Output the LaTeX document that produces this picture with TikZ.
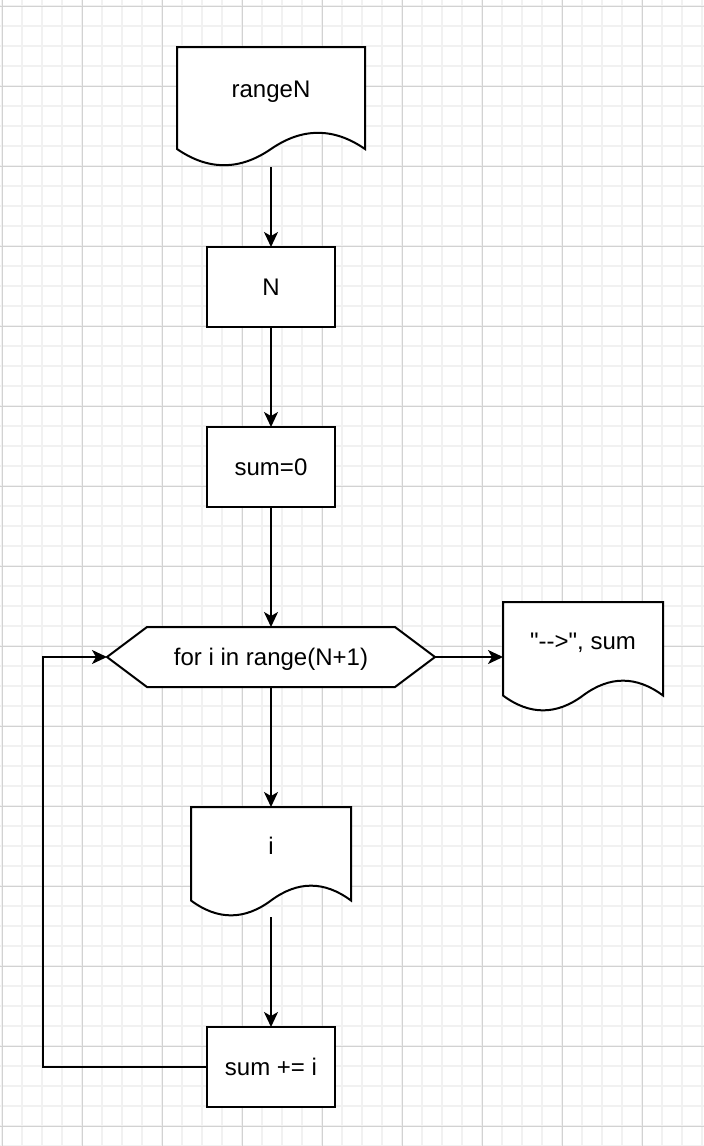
\documentclass[tikz,border=0pt]{standalone}
\usepackage{fontspec}
\setmainfont{Liberation Sans}[Ligatures=TeXOff]
\usetikzlibrary{arrows.meta,calc}
\definecolor{gridminor}{HTML}{F1F1F1}
\definecolor{gridmajor}{HTML}{D2D2D2}
\newcommand\docpath[3]{%
  \draw[ln, fill=white, shift={(#1.north west)}] (0,0) -- (#2,0) -- (#2,{0.85*#3})
    .. controls ({0.8333*#2},{0.67*#3}) and ({0.6667*#2},{0.67*#3}) .. ({0.5*#2},{0.85*#3})
    .. controls ({0.3333*#2},{1.03*#3}) and ({0.1667*#2},{1.03*#3}) .. (0,{0.85*#3}) -- cycle;}
\begin{document}
\begin{tikzpicture}[x=1pt,y=-1pt,
  every node/.style={font=\fontsize{24}{28}\selectfont},
  ln/.style={line width=2pt, line join=miter, black},
  txt/.style={inner sep=0pt, outer sep=0pt, text height=17.2pt, text depth=0pt},
  box/.style={draw, ln, fill=white, txt, minimum width=128pt, minimum height=80pt},
  frame/.style={draw=none, inner sep=0pt, outer sep=0pt},
  conn/.style={ln, -{Stealth[length=15pt,width=14pt,inset=4pt]}}
]
\useasboundingbox (0,0) rectangle (704,1146);
\fill[white] (0,0) rectangle (704,1146);
% grid
\foreach \x in {2,22,...,702} \draw[gridminor, line width=1.5pt] (\x,0) -- (\x,1146);
\foreach \y in {6,26,...,1146} \draw[gridminor, line width=1.5pt] (0,\y) -- (704,\y);
\foreach \x in {2,82,...,642} \draw[gridmajor, line width=1pt] (\x,0) -- (\x,1146);
\foreach \y in {6,86,...,1126} \draw[gridmajor, line width=1pt] (0,\y) -- (704,\y);

% document shapes
\node[frame, minimum width=188pt, minimum height=120pt] (rangeN) at (271,107) {};
\docpath{rangeN}{188}{120}
\node[txt] (rangeNt) at ($(rangeN.center)+(0,-18)$) {rangeN};

\node[box] (N) at (271,287) {N};
\node[box] (sum0) at (271,467) {sum=0};

\node[frame, minimum width=328pt, minimum height=60pt] (loop) at (271,657) {};
\draw[ln, fill=white] (loop.west) -- ($(loop.north west)+(40,0)$) -- ($(loop.north east)+(-40,0)$)
  -- (loop.east) -- ($(loop.south east)+(-40,0)$) -- ($(loop.south west)+(40,0)$) -- cycle;
\node[txt] (loopt) at (loop.center) {for i in range(N+1)};

\node[frame, minimum width=160pt, minimum height=110pt] (out) at (583,657) {};
\docpath{out}{160}{110}
\node[txt] (outt) at ($(out.center)+(0,-16.5)$) {"-->", sum};

\node[frame, minimum width=160pt, minimum height=110pt] (inode) at (271,862) {};
\docpath{inode}{160}{110}
\node[txt] (inodet) at ($(inode.center)+(0,-16.5)$) {i};

\node[box] (sumi) at (271,1067) {sum += i};

\coordinate (bend) at (43,1067);

% connectors
\draw[conn] (rangeN.south) -- (N.north);
\draw[conn] (N.south) -- (sum0.north);
\draw[conn] (sum0.south) -- (loop.north);
\draw[conn] (loop.east) -- (out.west);
\draw[conn] (loop.south) -- (inode.north);
\draw[conn] (inode.south) -- (sumi.north);
\draw[conn] (sumi.west) -- (bend) |- (loop.west);
\end{tikzpicture}
\end{document}
